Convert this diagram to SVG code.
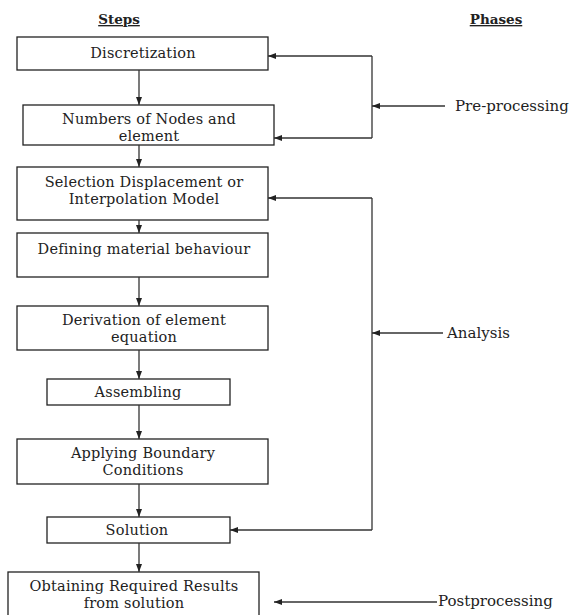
<svg xmlns="http://www.w3.org/2000/svg" width="569" height="615" viewBox="0 0 569 615">
<style>
.box{fill:#fff;stroke:#222;stroke-width:1.3}
.t{font-family:"DejaVu Serif","Liberation Serif",serif;font-size:14.5px;letter-spacing:0.2px;fill:#222;text-anchor:middle}
.p{font-family:"DejaVu Serif","Liberation Serif",serif;font-size:15px;fill:#222}
.h{font-family:"DejaVu Serif","Liberation Serif",serif;font-size:13.5px;font-weight:bold;fill:#222;text-anchor:middle;text-decoration:underline}
.c{fill:none;stroke:#333;stroke-width:1.3}
</style>
<defs>
<marker id="ah" markerUnits="userSpaceOnUse" markerWidth="9" markerHeight="7" refX="8" refY="3" orient="auto">
<path d="M0,0 L8,3 L0,6 z" fill="#222"/>
</marker>
</defs>
<rect width="569" height="615" fill="#fff"/>
<g id="headers">
<text class="h" x="119" y="24">Steps</text>
<text class="h" x="496" y="24">Phases</text>
</g>
<g id="n1"><rect class="box" x="17" y="37" width="251" height="33"/><text class="t" x="143" y="58">Discretization</text></g>
<g id="n2"><rect class="box" x="23" y="105" width="251" height="40"/><text class="t" x="149" y="123.5">Numbers of Nodes and</text><text class="t" x="149" y="140.5">element</text></g>
<g id="n3"><rect class="box" x="17" y="167" width="251" height="53"/><text class="t" x="144" y="186.5">Selection Displacement or</text><text class="t" x="144" y="203.5">Interpolation Model</text></g>
<g id="n4"><rect class="box" x="17" y="233" width="251" height="44"/><text class="t" x="144" y="254">Defining material behaviour</text></g>
<g id="n5"><rect class="box" x="17" y="306" width="251" height="44"/><text class="t" x="144" y="324.5">Derivation of element</text><text class="t" x="144" y="341.5">equation</text></g>
<g id="n6"><rect class="box" x="47" y="379" width="183" height="26"/><text class="t" x="138" y="397">Assembling</text></g>
<g id="n7"><rect class="box" x="17" y="439" width="251" height="45"/><text class="t" x="143" y="457.5">Applying Boundary</text><text class="t" x="143" y="474.5">Conditions</text></g>
<g id="n8"><rect class="box" x="47" y="517" width="183" height="26"/><text class="t" x="137" y="535">Solution</text></g>
<g id="n9"><rect class="box" x="8" y="572" width="251" height="50"/><text class="t" x="134" y="590.5">Obtaining Required Results</text><text class="t" x="134" y="607.5">from solution</text></g>
<g id="phases">
<text class="p" x="455" y="111">Pre-processing</text>
<text class="p" x="447" y="338">Analysis</text>
<text class="p" x="438" y="606">Postprocessing</text>
</g>
<g id="connectors">
<line class="c" x1="139" y1="70" x2="139" y2="105" marker-end="url(#ah)"/>
<line class="c" x1="139" y1="145" x2="139" y2="167" marker-end="url(#ah)"/>
<line class="c" x1="139" y1="220" x2="139" y2="233" marker-end="url(#ah)"/>
<line class="c" x1="139" y1="277" x2="139" y2="306" marker-end="url(#ah)"/>
<line class="c" x1="139" y1="350" x2="139" y2="379" marker-end="url(#ah)"/>
<line class="c" x1="139" y1="405" x2="139" y2="439" marker-end="url(#ah)"/>
<line class="c" x1="139" y1="484" x2="139" y2="517" marker-end="url(#ah)"/>
<line class="c" x1="139" y1="543" x2="139" y2="572" marker-end="url(#ah)"/>
<path class="c" d="M372,56 V138"/>
<line class="c" x1="372" y1="56" x2="268" y2="56" marker-end="url(#ah)"/>
<line class="c" x1="372" y1="138" x2="274" y2="138" marker-end="url(#ah)"/>
<line class="c" x1="445" y1="106" x2="372" y2="106" marker-end="url(#ah)"/>
<path class="c" d="M372,198 V530"/>
<line class="c" x1="372" y1="198" x2="268" y2="198" marker-end="url(#ah)"/>
<line class="c" x1="372" y1="530" x2="230" y2="530" marker-end="url(#ah)"/>
<line class="c" x1="443" y1="333" x2="372" y2="333" marker-end="url(#ah)"/>
<line class="c" x1="437" y1="602" x2="274" y2="602" marker-end="url(#ah)"/>
</g>
</svg>
